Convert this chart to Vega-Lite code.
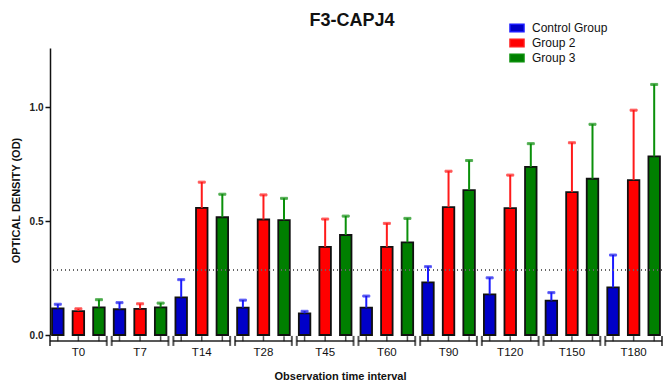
{
  "$schema": "https://vega.github.io/schema/vega-lite/v6.json",
  "width": 612,
  "height": 287,
  "autosize": "none",
  "padding": {"left": 50, "top": 48, "right": 5, "bottom": 50},
  "background": "white",
  "config": {"view": {"stroke": null}, "font": "Liberation Sans"},
  "title": {"text": "F3-CAPJ4", "fontSize": 18, "fontWeight": "bold", "font": "Liberation Sans", "color": "#111", "anchor": "middle", "frame": "group", "baseline": "alphabetic", "offset": -24, "dx": -4},
  "datasets": {
    "od": [
      {"time": "T0", "group": "Control Group", "mean": 0.117, "upper": 0.135},
      {"time": "T0", "group": "Group 2", "mean": 0.105, "upper": 0.115},
      {"time": "T0", "group": "Group 3", "mean": 0.121, "upper": 0.155},
      {"time": "T7", "group": "Control Group", "mean": 0.113, "upper": 0.142},
      {"time": "T7", "group": "Group 2", "mean": 0.115, "upper": 0.137},
      {"time": "T7", "group": "Group 3", "mean": 0.121, "upper": 0.140},
      {"time": "T14", "group": "Control Group", "mean": 0.165, "upper": 0.243},
      {"time": "T14", "group": "Group 2", "mean": 0.558, "upper": 0.671},
      {"time": "T14", "group": "Group 3", "mean": 0.517, "upper": 0.618},
      {"time": "T28", "group": "Control Group", "mean": 0.120, "upper": 0.153},
      {"time": "T28", "group": "Group 2", "mean": 0.507, "upper": 0.615},
      {"time": "T28", "group": "Group 3", "mean": 0.504, "upper": 0.600},
      {"time": "T45", "group": "Control Group", "mean": 0.095, "upper": 0.104},
      {"time": "T45", "group": "Group 2", "mean": 0.387, "upper": 0.509},
      {"time": "T45", "group": "Group 3", "mean": 0.439, "upper": 0.522},
      {"time": "T60", "group": "Control Group", "mean": 0.120, "upper": 0.171},
      {"time": "T60", "group": "Group 2", "mean": 0.387, "upper": 0.490},
      {"time": "T60", "group": "Group 3", "mean": 0.407, "upper": 0.512},
      {"time": "T90", "group": "Control Group", "mean": 0.231, "upper": 0.300},
      {"time": "T90", "group": "Group 2", "mean": 0.561, "upper": 0.719},
      {"time": "T90", "group": "Group 3", "mean": 0.636, "upper": 0.766},
      {"time": "T120", "group": "Control Group", "mean": 0.178, "upper": 0.251},
      {"time": "T120", "group": "Group 2", "mean": 0.557, "upper": 0.702},
      {"time": "T120", "group": "Group 3", "mean": 0.738, "upper": 0.840},
      {"time": "T150", "group": "Control Group", "mean": 0.151, "upper": 0.186},
      {"time": "T150", "group": "Group 2", "mean": 0.627, "upper": 0.844},
      {"time": "T150", "group": "Group 3", "mean": 0.686, "upper": 0.925},
      {"time": "T180", "group": "Control Group", "mean": 0.209, "upper": 0.351},
      {"time": "T180", "group": "Group 2", "mean": 0.680, "upper": 0.987},
      {"time": "T180", "group": "Group 3", "mean": 0.784, "upper": 1.100}
    ],
    "times": [
      {"time": "T0"}, {"time": "T7"}, {"time": "T14"}, {"time": "T28"}, {"time": "T45"},
      {"time": "T60"}, {"time": "T90"}, {"time": "T120"}, {"time": "T150"}, {"time": "T180"}
    ]
  },
  "layer": [
    {
      "data": {"name": "od"},
      "mark": {"type": "bar", "stroke": "#111", "strokeWidth": 1.8},
      "encoding": {
        "x": {"field": "time", "type": "nominal",
              "scale": {"domain": ["T0","T7","T14","T28","T45","T60","T90","T120","T150","T180"], "paddingInner": 0.08, "paddingOuter": 0},
              "axis": {"title": "Observation time interval", "domain": false, "ticks": false, "labelAngle": 0, "labelPadding": 11, "labelFontSize": 11.5, "labelColor": "#111", "labelFont": "Liberation Sans", "titleFont": "Liberation Sans", "titleFontSize": 11, "titleFontWeight": "bold", "titleColor": "#111", "titlePadding": 13, "titleX": 290}},
        "xOffset": {"field": "group", "type": "nominal", "scale": {"domain": ["Control Group","Group 2","Group 3"], "paddingInner": 0.44, "paddingOuter": 0.1}},
        "y": {"field": "mean", "type": "quantitative",
              "scale": {"domain": [0, 1.26], "nice": false, "zero": true},
              "axis": {"title": "OPTICAL DENSITY (OD)", "values": [0, 0.5, 1], "format": ".1f", "grid": false, "domainColor": "#111", "domainWidth": 1.5, "tickColor": "#111", "tickWidth": 1.5, "tickSize": 5, "labelFont": "Liberation Sans", "labelFontWeight": "bold", "labelFontSize": 10, "labelColor": "#222", "labelPadding": 2, "titleFont": "Liberation Sans", "titleFontSize": 11, "titleFontWeight": "bold", "titleColor": "#111", "titlePadding": 8, "titleY": 152}},
        "fill": {"field": "group", "type": "nominal",
                 "scale": {"domain": ["Control Group","Group 2","Group 3"], "range": ["#0000C8", "#FF0000", "#007F00"]},
                 "legend": {"title": null, "orient": "none", "legendX": 459, "legendY": -28, "padding": 0, "labelFontSize": 12, "labelFont": "Liberation Sans", "labelColor": "#111", "symbolType": "M-1,-0.55H1V0.55H-1Z", "symbolSize": 196, "symbolStrokeColor": "#111", "symbolStrokeWidth": 1.5, "symbolOpacity": 1, "rowPadding": 0, "labelOffset": 7}}
      }
    },
    {
      "data": {"name": "od"},
      "mark": {"type": "rule", "strokeWidth": 2},
      "encoding": {
        "x": {"field": "time", "type": "nominal"},
        "xOffset": {"field": "group", "type": "nominal"},
        "y": {"field": "mean", "type": "quantitative"},
        "y2": {"field": "upper"},
        "stroke": {"field": "group", "type": "nominal", "scale": {"domain": ["Control Group","Group 2","Group 3"], "range": ["#1A1AFF", "#FF1A1A", "#0A900A"]}, "legend": null}
      }
    },
    {
      "data": {"name": "od"},
      "mark": {"type": "tick", "orient": "horizontal", "size": 7, "thickness": 2},
      "encoding": {
        "x": {"field": "time", "type": "nominal"},
        "xOffset": {"field": "group", "type": "nominal"},
        "y": {"field": "upper", "type": "quantitative"},
        "stroke": {"field": "group", "type": "nominal", "legend": null},
        "fill": {"field": "group", "type": "nominal", "legend": null}
      }
    },
    {
      "data": {"name": "od"},
      "mark": {"type": "rule", "strokeDash": [1, 3], "color": "#666", "strokeWidth": 1.1},
      "encoding": {"y": {"datum": 0.285}}
    },
    {
      "data": {"name": "times"},
      "mark": {"type": "tick", "orient": "horizontal", "size": 57, "thickness": 2, "color": "#111"},
      "encoding": {
        "x": {"field": "time", "type": "nominal"},
        "y": {"datum": -0.026}
      }
    },
    {
      "data": {"name": "times"},
      "mark": {"type": "tick", "orient": "vertical", "size": 10, "thickness": 2, "color": "#111"},
      "encoding": {
        "x": {"field": "time", "type": "nominal", "bandPosition": 0},
        "y": {"datum": -0.026}
      }
    },
    {
      "data": {"name": "times"},
      "mark": {"type": "tick", "orient": "vertical", "size": 10, "thickness": 2, "color": "#111"},
      "encoding": {
        "x": {"field": "time", "type": "nominal", "bandPosition": 1},
        "y": {"datum": -0.026}
      }
    },
    {
      "data": {"name": "od"},
      "mark": {"type": "tick", "orient": "vertical", "size": 5, "thickness": 1.5, "color": "#111"},
      "encoding": {
        "x": {"field": "time", "type": "nominal"},
        "xOffset": {"field": "group", "type": "nominal"},
        "y": {"datum": -0.016}
      }
    }
  ]
}
